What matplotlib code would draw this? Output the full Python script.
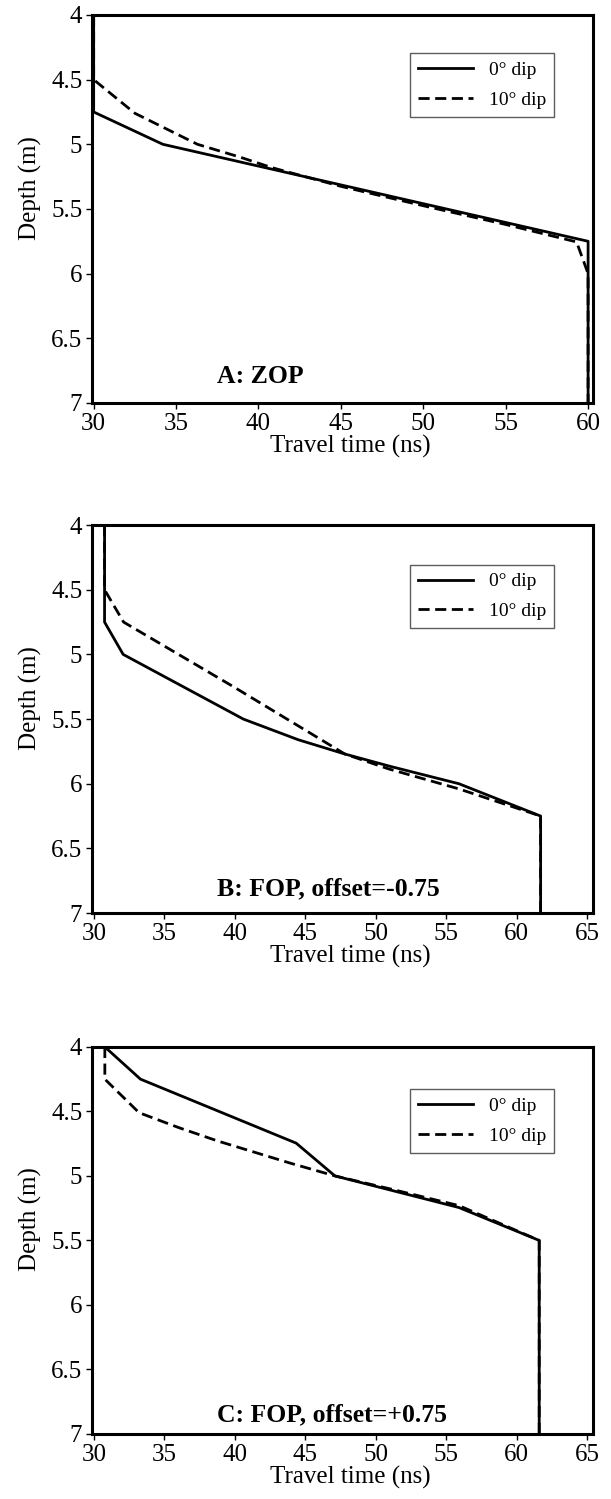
import matplotlib
matplotlib.use('Agg')
import matplotlib.pyplot as plt

# serif look like the original figure
plt.rcParams['font.family'] = ['Liberation Serif', 'DejaVu Serif']

# ---- data (travel time ns, depth m) ----
# A: ZOP
a_t0 = [30.0, 30.0, 34.2, 42.8, 51.4, 60.0, 60.0]
a_d0 = [4.0, 4.75, 5.0, 5.25, 5.5, 5.75, 7.0]
a_t10 = [30.0, 30.0, 32.5, 36.3, 38.9, 40.8, 45.0, 50.0, 55.0, 59.3, 60.0, 60.0]
a_d10 = [4.0, 4.5, 4.76, 5.0, 5.1, 5.18, 5.325, 5.475, 5.62, 5.755, 6.0, 7.0]

# B: FOP, offset=-0.75
b_t0 = [30.75, 30.75, 32.07, 40.6, 44.5, 47.8, 51.0, 55.9, 61.7, 61.7]
b_d0 = [4.0, 4.75, 5.0, 5.5, 5.66, 5.77, 5.865, 6.0, 6.25, 7.0]
b_t10 = [30.75, 30.75, 32.1, 39.9, 47.8, 50.9, 55.9, 61.7, 61.7]
b_d10 = [4.0, 4.5, 4.75, 5.25, 5.77, 5.885, 6.04, 6.25, 7.0]

# C: FOP, offset=+0.75
c_t0 = [30.77, 33.3, 44.35, 47.1, 55.9, 61.6, 61.6]
c_d0 = [4.0, 4.25, 4.746, 5.0, 5.245, 5.5, 7.0]
c_t10 = [30.77, 30.77, 33.2, 36.0, 38.8, 41.5, 43.9, 47.1, 51.0, 55.9, 61.6, 61.6]
c_d10 = [4.0, 4.25, 4.51, 4.625, 4.73, 4.82, 4.9, 5.0, 5.1, 5.23, 5.5, 7.0]

titles = ['A: ZOP', 'B: FOP, offset=-0.75', 'C: FOP, offset=+0.75']
xticks_a = [30, 35, 40, 45, 50, 55, 60]
xticks_bc = [30, 35, 40, 45, 50, 55, 60, 65]
yticks = [4, 4.5, 5, 5.5, 6, 6.5, 7]
ytick_labels = ['4', '4.5', '5', '5.5', '6', '6.5', '7']

fig = plt.figure(figsize=(6.11, 14.99), dpi=100)

# axes boxes in figure fractions (left, bottom, width, height)
boxes = [[0.1506, 0.7312, 0.820, 0.2588],
         [0.1506, 0.3909, 0.820, 0.2588],
         [0.1506, 0.0434, 0.820, 0.2582]]
xlims = [(29.9, 60.3), (29.86, 65.42), (29.86, 65.42)]
legend_tops = [0.901, 0.898, 0.891]
title_y = [0.052, 0.046, 0.032]

series = [(a_t0, a_d0, a_t10, a_d10),
          (b_t0, b_d0, b_t10, b_d10),
          (c_t0, c_d0, c_t10, c_d10)]

for i in range(3):
    ax = fig.add_axes(boxes[i])
    t0, d0, t10, d10 = series[i]
    ax.plot(t0, d0, color='black', lw=2.0, label='0° dip')
    ax.plot(t10, d10, color='black', lw=2.0, ls=(0, (4, 2)), label='10° dip')

    ax.set_xlim(xlims[i])
    ax.set_ylim(7, 4)  # depth grows downwards
    if i == 0:
        ax.set_xticks(xticks_a)
    else:
        ax.set_xticks(xticks_bc)
    ax.set_yticks(yticks)
    ax.set_yticklabels(ytick_labels)

    for sp in ax.spines.values():
        sp.set_linewidth(2.2)
    ax.tick_params(direction='out', length=4, width=1, labelsize=18, pad=3)

    ax.set_xlabel('Travel time (ns)', fontsize=18, labelpad=0)
    ax.set_ylabel('Depth (m)', fontsize=18)
    ax.yaxis.set_label_coords(-0.10, 0.555)
    ax.xaxis.set_label_coords(0.515, -0.083)

    leg = ax.legend(loc='upper right', bbox_to_anchor=(0.923, legend_tops[i]),
                    borderaxespad=0, fontsize=14, handlelength=2.8,
                    handletextpad=0.85, labelspacing=0.62, borderpad=0.42,
                    fancybox=False, edgecolor='#333333')
    leg.get_frame().set_linewidth(1.0)

    ax.text(0.25, title_y[i], titles[i], transform=ax.transAxes, fontsize=18.5,
            fontweight='bold', ha='left', va='baseline')

fig.savefig('out.png', dpi=100)
